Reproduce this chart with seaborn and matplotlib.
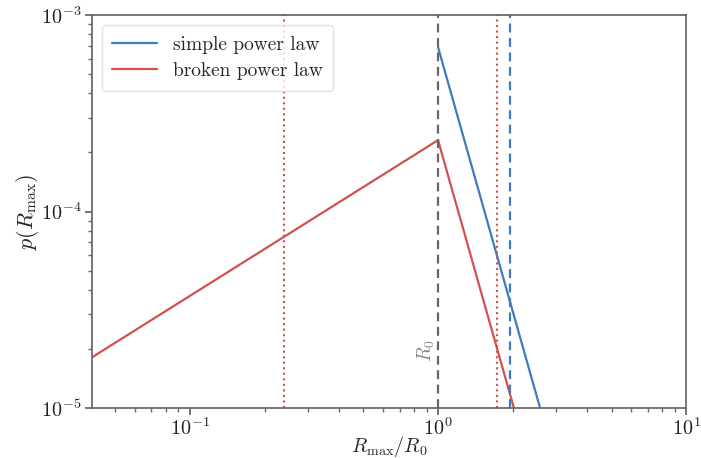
import numpy as np
import matplotlib
matplotlib.use("Agg")
import matplotlib.pyplot as plt
import seaborn as sns
import pandas as pd

# Power-law distributions of R_max / R_0 (straight segments in log-log space)
simple_x = [1.0, 3.0]
simple_y = [6.87e-4, 5.07e-6]
broken_x = [0.04, 1.0, 3.0]
broken_y = [1.80e-5, 2.31e-4, 1.72e-6]

# Reference markers
r0 = 1.0
broken_bounds = [0.239, 1.73]
simple_bound = 1.95

blue = "#3b7dbf"
red = "#cf5250"

sns.set_theme(style="ticks")
plt.rcParams.update({
    "font.family": "serif",
    "font.serif": ["cmr10"],
    "mathtext.fontset": "cm",
    "axes.formatter.use_mathtext": True,
    "axes.edgecolor": "#666666",
    "xtick.color": "#666666",
    "ytick.color": "#666666",
    "xtick.labelcolor": "#222222",
    "ytick.labelcolor": "#222222",
})

df = pd.concat([
    pd.DataFrame({"x": simple_x, "y": simple_y, "model": "simple power law"}),
    pd.DataFrame({"x": broken_x, "y": broken_y, "model": "broken power law"}),
])

fig, ax = plt.subplots(figsize=(7.01, 4.58), dpi=100)
fig.subplots_adjust(left=0.131, right=0.979, top=0.967, bottom=0.109)

sns.lineplot(data=df, x="x", y="y", hue="model", palette=[blue, red],
             sort=False, estimator=None, lw=1.6, ax=ax)

ax.set_xscale("log")
ax.set_yscale("log")
ax.set_xlim(0.0403, 10)
ax.set_ylim(1e-5, 1e-3)

ax.axvline(r0, color="#666666", ls="--", lw=1.6, dashes=(4, 2.5))
for b in broken_bounds:
    ax.axvline(b, color=red, ls=":", lw=1.5)
ax.axvline(simple_bound, color=blue, ls="--", lw=1.6, dashes=(4, 2.5))

ax.text(0.99, 1.72e-5, r"$R_0$", rotation=90, ha="right", va="bottom",
        color="#888888", fontsize=14)

ax.set_xlabel(r"$R_{\rm max}/R_0$", fontsize=14.5, va="center")
ax.set_ylabel(r"$p(R_{\rm max})$", fontsize=16)
ax.xaxis.set_label_coords(0.5, -0.098)
ax.yaxis.set_label_coords(-0.085, 0.5)
ax.tick_params(axis="both", which="major", labelsize=14.5, length=5, pad=2.5)
ax.tick_params(axis="x", which="major", pad=1.5)
ax.tick_params(axis="both", which="minor", length=3)

leg = ax.legend(loc="upper left", fontsize=14, frameon=True,
                handlelength=2.3, handletextpad=0.8, borderpad=0.55,
                labelspacing=0.45, bbox_to_anchor=(0.0, 1.0))
leg.get_frame().set_edgecolor("#dddddd")
leg.set_title(None)

sns.despine(ax=ax, top=False, right=False)
fig.savefig("out.png", dpi=100)
